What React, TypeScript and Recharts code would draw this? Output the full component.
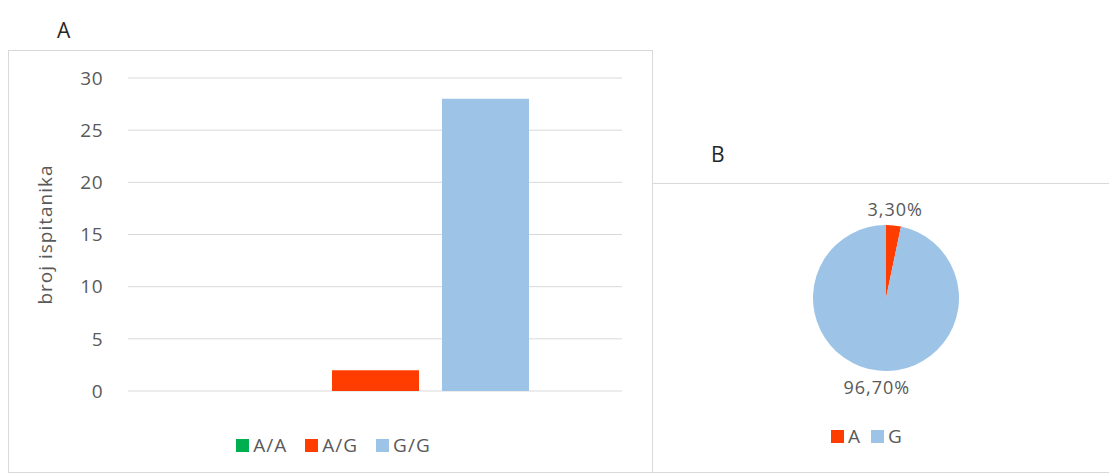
import React from "react";
import {
  BarChart,
  Bar,
  XAxis,
  YAxis,
  CartesianGrid,
  Legend,
  Label,
  PieChart,
  Pie,
  Cell,
} from "recharts";

// Panel A: genotype counts
const genotypes = ["A/A", "A/G", "G/G"];
const genotypeCounts = [0, 2, 28];
const genotypeColors = ["#00b050", "#ff3d00", "#9dc3e6"];
const yTicks = [0, 5, 10, 15, 20, 25, 30];

// Panel B: allele shares (%)
const alleles = ["A", "G"];
const alleleShares = [3.3, 96.7];
const alleleColors = ["#ff3d00", "#9dc3e6"];

const FONT = "'Open Sans', 'DejaVu Sans', sans-serif";
const GRAY = "#595959";
const BORDER = "#d9d9d9";

// one category, one bar per genotype
const barRow: Record<string, string | number> = { name: "genotip" };
genotypes.forEach((g, i) => {
  barRow[g] = genotypeCounts[i];
});
const barData = [barRow];

const pieData = alleles.map((a, i) => ({
  name: a,
  value: alleleShares[i],
  fill: alleleColors[i],
}));

function LegendRow({ items, gap }: { items: { label: string; color: string }[]; gap: number }) {
  return (
    <div
      style={{
        display: "flex",
        justifyContent: "center",
        gap,
        fontFamily: FONT,
        fontSize: 19,
        letterSpacing: 1,
        color: GRAY,
        lineHeight: "20px",
      }}
    >
      {items.map((it) => (
        <span key={it.label} style={{ display: "flex", alignItems: "center" }}>
          <span
            style={{
              width: 13,
              height: 13,
              background: it.color,
              display: "inline-block",
              marginRight: 4,
            }}
          />
          {it.label}
        </span>
      ))}
    </div>
  );
}

const RAD = Math.PI / 180;

function pieLabel(props: any) {
  const { cx, cy, midAngle, outerRadius, value } = props;
  const r = outerRadius + 16;
  const x = cx + r * Math.cos(-midAngle * RAD);
  const y = cy + r * Math.sin(-midAngle * RAD);
  return (
    <text
      x={x}
      y={y}
      fill={GRAY}
      fontFamily={FONT}
      fontSize={18}
      letterSpacing={1}
      textAnchor="middle"
      dominantBaseline="central"
    >
      {value.toFixed(2).replace(".", ",")}%
    </text>
  );
}

function yLabel(props: any) {
  const vb = props.viewBox;
  const cx = 36;
  const cy = vb.y + vb.height / 2;
  return (
    <text
      x={cx}
      y={cy}
      transform={`rotate(-90, ${cx}, ${cy})`}
      textAnchor="middle"
      dominantBaseline="central"
      fill={GRAY}
      fontFamily={FONT}
      fontSize={19}
      letterSpacing={1}
    >
      broj ispitanika
    </text>
  );
}

export default function App() {
  return (
    <div
      style={{
        position: "absolute",
        left: 0,
        top: 0,
        width: 1109,
        height: 475,
        background: "#fff",
        overflow: "hidden",
      }}
    >
      <div
        style={{
          position: "absolute",
          left: 57,
          top: 16,
          fontFamily: FONT,
          fontSize: 21,
          lineHeight: "normal",
          color: "#262626",
        }}
      >
        A
      </div>
      <div
        style={{
          position: "absolute",
          left: 711,
          top: 140,
          fontFamily: FONT,
          fontSize: 21,
          lineHeight: "normal",
          color: "#262626",
        }}
      >
        B
      </div>

      <div
        style={{
          position: "absolute",
          left: 8,
          top: 50,
          width: 645,
          height: 423,
          border: `1px solid ${BORDER}`,
          boxSizing: "border-box",
        }}
      >
        <BarChart
          width={643}
          height={421}
          data={barData}
          margin={{ top: 27, right: 30, left: 0, bottom: 17 }}
          barGap={23}
        >
          <CartesianGrid vertical={false} stroke={BORDER} />
          <XAxis dataKey="name" tick={false} tickLine={false} axisLine={false} height={44} />
          <YAxis
            width={119}
            domain={[0, 30]}
            ticks={yTicks}
            tickLine={false}
            axisLine={false}
            tickMargin={19}
            tick={{ fill: GRAY, fontSize: 19, fontFamily: FONT, letterSpacing: 0.5 }}
          >
            <Label content={yLabel} />
          </YAxis>
          {genotypes.map((g, i) => (
            <Bar
              key={g}
              dataKey={g}
              fill={genotypeColors[i]}
              barSize={87}
              isAnimationActive={false}
            />
          ))}
          <Legend
            verticalAlign="bottom"
            wrapperStyle={{ left: 0, width: 643 }}
            content={() => (
              <div style={{ paddingLeft: 6 }}>
                <LegendRow
                  gap={18}
                  items={genotypes.map((g, i) => ({ label: g, color: genotypeColors[i] }))}
                />
              </div>
            )}
          />
        </BarChart>
      </div>

      <div
        style={{
          position: "absolute",
          left: 652,
          top: 183,
          width: 460,
          height: 290,
          border: `1px solid ${BORDER}`,
          boxSizing: "border-box",
        }}
      >
        <PieChart width={458} height={288} margin={{ top: 0, right: 0, left: 0, bottom: 0 }}>
          <Pie
            data={pieData}
            dataKey="value"
            nameKey="name"
            cx={233}
            cy={114}
            outerRadius={73}
            startAngle={90}
            endAngle={-270}
            stroke="none"
            label={pieLabel}
            labelLine={false}
            isAnimationActive={false}
          >
            {pieData.map((d) => (
              <Cell key={d.name} fill={d.fill} />
            ))}
          </Pie>
          <Legend
            verticalAlign="bottom"
            wrapperStyle={{ left: 0, width: 458, bottom: 26 }}
            content={() => (
              <div style={{ paddingRight: 30 }}>
                <LegendRow
                  gap={10}
                  items={alleles.map((a, i) => ({ label: a, color: alleleColors[i] }))}
                />
              </div>
            )}
          />
        </PieChart>
      </div>
    </div>
  );
}
